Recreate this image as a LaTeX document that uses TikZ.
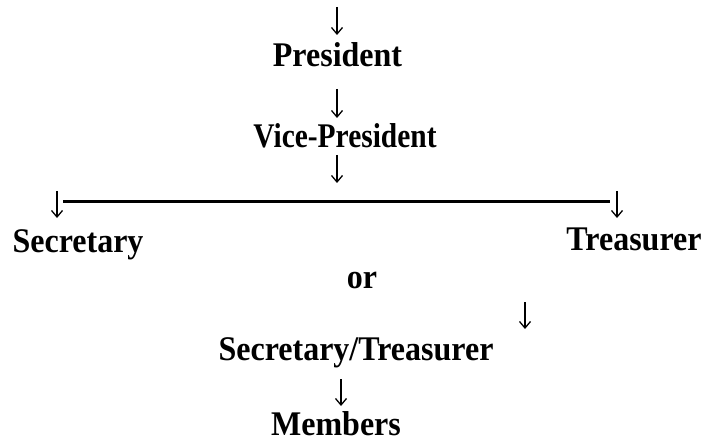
\documentclass[tikz,border=0pt]{standalone}
\usepackage{fontspec}
\setmainfont{Liberation Serif}
\usetikzlibrary{arrows.meta}
\newcommand{\tallt}[1]{\scalebox{1}[1.08]{#1}}
\begin{document}
\begin{tikzpicture}[x=1pt,y=1pt,
  lbl/.style={inner sep=0pt, anchor=base, font=\fontsize{32}{38}\selectfont\bfseries},
  dn/.style={line width=1.3pt, -{Straight Barb[length=6.5pt,width=11pt,line width=1.3pt]}},
  bar/.style={line width=3pt}]
\useasboundingbox (0,0) rectangle (718,-441);
% text nodes
\node[lbl] (pres) at (337.5,-67) {\tallt{President}};
\node[lbl] (vp) at (345,-148) {\scalebox{0.92}[1.08]{Vice-President}};
\node[lbl] (sec) at (78,-252) {\tallt{Secretary}};
\node[lbl] (tre) at (634,-251) {\tallt{Treasurer}};
\node[lbl] (or) at (362,-288) {\tallt{or}};
\node[lbl] (st) at (356,-360) {\tallt{Secretary/Treasurer}};
\node[lbl] (mem) at (336,-435) {\tallt{Members}};
% arrow end points
\coordinate (a1t) at (337,-7);   \coordinate (a1b) at (337,-35);
\coordinate (a2t) at (337,-89);  \coordinate (a2b) at (337,-118);
\coordinate (a3t) at (337,-155); \coordinate (a3b) at (337,-183);
\coordinate (lat) at (57,-191);  \coordinate (lab) at (57,-218);
\coordinate (rat) at (617,-191); \coordinate (rab) at (617,-218);
\coordinate (a4t) at (525,-302); \coordinate (a4b) at (525,-329);
\coordinate (a5t) at (341,-379); \coordinate (a5b) at (341,-406);
\draw[dn] (a1t) -- (a1b);
\draw[dn] (a2t) -- (a2b);
\draw[dn] (a3t) -- (a3b);
\draw[dn] (lat) -- (lab);
\draw[dn] (rat) -- (rab);
\draw[dn] (a4t) -- (a4b);
\draw[dn] (a5t) -- (a5b);
% horizontal bar
\coordinate (ls) at (63,-202);
\coordinate (le) at (610,-202);
\draw[bar] (ls) -- (le);
\end{tikzpicture}
\end{document}
